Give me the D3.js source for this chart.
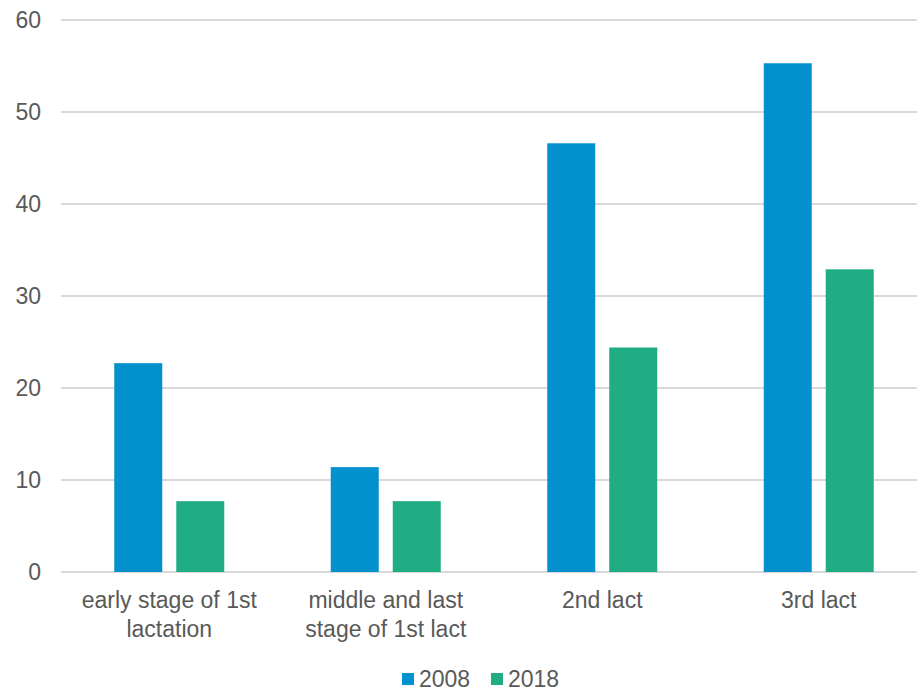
<!DOCTYPE html>
<html>
<head>
<meta charset="utf-8">
<script src="https://cdn.jsdelivr.net/npm/d3@7"></script>
<style>
  html, body { margin: 0; padding: 0; background: #fff; }
  svg { display: block; }
  text { font-family: "Liberation Sans", Arial, sans-serif; fill: #595959; }
</style>
</head>
<body>
<svg id="chart" width="917" height="689"></svg>
<script>
// Lactation stages and the two survey years
const categories = [
  ["early stage of 1st", "lactation"],
  ["middle and last", "stage of 1st lact"],
  ["2nd lact"],
  ["3rd lact"]
];
const seriesNames = ["2008", "2018"];
const values2008 = [22.7, 11.4, 46.6, 55.3];
const values2018 = [7.7, 7.7, 24.4, 32.9];
const yTicks = [0, 10, 20, 30, 40, 50, 60];
const colors = ["#0391CE", "#21AD83"];

const svg = d3.select("#chart");
const margin = { left: 61, right: -10, top: 20, bottom: 117 };
const W = 917, H = 689;

const x = d3.scaleBand()
  .domain(d3.range(categories.length))
  .range([margin.left, W - margin.right])
  .paddingInner(0)
  .paddingOuter(0);

const y = d3.scaleLinear().domain([0, 60]).range([572, 20]);

const barW = 48, barGap = 14;
const sub = d3.scaleBand().domain(seriesNames).range([0, barW * 2 + barGap]).paddingInner(barGap / (barW + barGap)).paddingOuter(0);

// gridlines
const grid = svg.append("g");
grid.selectAll("line").data(yTicks).join("line")
  .attr("x1", margin.left).attr("x2", W)
  .attr("y1", d => y(d)).attr("y2", d => y(d))
  .attr("stroke", "#d9d9d9").attr("stroke-width", 2);

// y axis labels
const yAxis = d3.axisLeft(y).tickValues(yTicks).tickSize(0).tickPadding(20);
const yg = svg.append("g").attr("transform", `translate(${margin.left},0)`).call(yAxis);
yg.select(".domain").remove();
yg.selectAll("text").attr("font-size", 23).attr("fill", "#595959")
  .style("font-family", '"Liberation Sans", Arial, sans-serif');

// bars
const data = categories.map((c, i) => ({ i, vals: [values2008[i], values2018[i]] }));
const groupW = barW * 2 + barGap;
const groups = svg.append("g").selectAll("g").data(data).join("g")
  .attr("transform", d => `translate(${x(d.i) + (x.bandwidth() - groupW) / 2},0)`);
groups.selectAll("rect").data(d => d.vals.map((v, k) => ({ v, k })))
  .join("rect")
  .attr("x", d => sub(seriesNames[d.k]))
  .attr("width", sub.bandwidth())
  .attr("y", d => y(d.v))
  .attr("height", d => y(0) - y(d.v))
  .attr("fill", d => colors[d.k]);

// category labels
const lab = svg.append("g").selectAll("text").data(categories).join("text")
  .attr("text-anchor", "middle")
  .attr("font-size", 23)
  .attr("x", (d, i) => x(i) + x.bandwidth() / 2)
  .attr("y", 608);
lab.selectAll("tspan").data(d => d).join("tspan")
  .attr("x", function () { return d3.select(this.parentNode).attr("x"); })
  .attr("dy", (d, i) => i === 0 ? 0 : 29)
  .text(d => d);

// legend
const legendX = [402, 491];
const leg = svg.append("g").selectAll("g").data(seriesNames).join("g")
  .attr("transform", (d, i) => `translate(${legendX[i]},673)`);
leg.append("rect").attr("width", 12).attr("height", 12).attr("fill", (d, i) => colors[i]);
leg.append("text").attr("x", 17).attr("y", 14).attr("font-size", 23).text(d => d);
</script>
</body>
</html>
